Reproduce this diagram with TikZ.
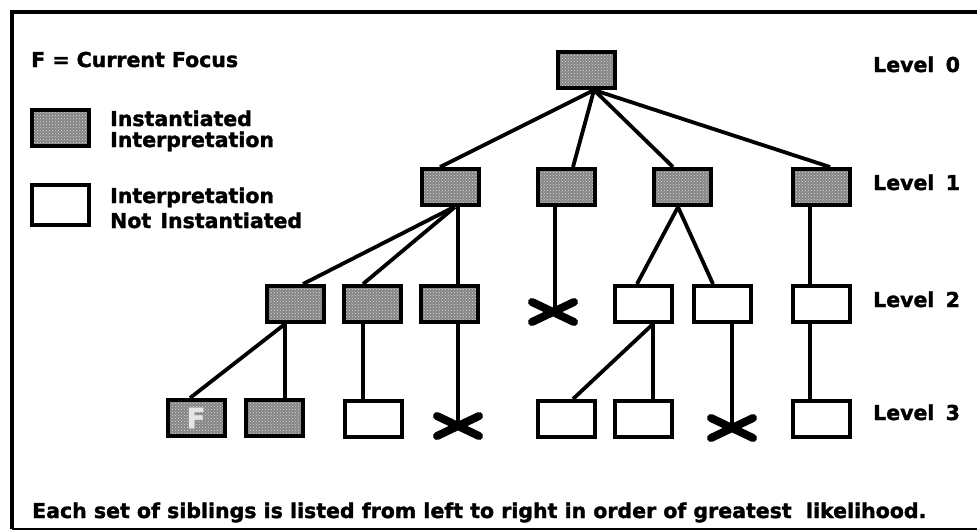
\documentclass[tikz,border=0pt]{standalone}
\usepackage{fontspec}
\setmainfont{DejaVu Sans}
\newfontfamily\heavyfont{DejaVu Sans Bold}[FakeBold=1.6]
\usetikzlibrary{patterns}
\begin{document}
\begin{tikzpicture}[x=1pt,y=-1pt,
  box/.style={draw, line width=4pt, minimum width=57pt, minimum height=36pt, inner sep=0pt},
  inst/.style={box, preaction={fill=black!48}, pattern=crosshatch dots, pattern color=white!85!black},
  open/.style={box, fill=white},
  link/.style={line width=3.8pt},
  lbl/.style={font=\heavyfont\fontsize{20.5}{24}\selectfont, anchor=base west, inner sep=0pt},
  xmark/.pic={\draw[line width=8pt, line cap=round] (-21,-10) -- (21,10) (-21,10) -- (21,-10);}
]
\useasboundingbox (0,0) rectangle (977,531);

% frame
\draw[line width=4.5pt] (977,12) -- (12,12) -- (12,529);
\draw[line width=1.5pt] (12,529) -- (977,529);

% legend
\node[lbl] (focus) at (31,67) {F = Current Focus};
\node[inst, minimum width=57pt] (leg1) at (60.5,127.5) {};
\node[lbl] (leg1a) at (110,126) {Instantiated};
\node[lbl] (leg1b) at (110,147) {Interpretation};
\node[open, minimum width=57pt, minimum height=40pt] (leg2) at (60.5,205) {};
\node[lbl] (leg2a) at (110,203) {Interpretation};
\node[lbl] (leg2b) at (110,228) {Not\hspace{0.45em}Instantiated};

% level labels
\node[lbl] (lv0) at (873,72) {Level\hspace{0.55em}0};
\node[lbl] (lv1) at (873,190) {Level\hspace{0.55em}1};
\node[lbl] (lv2) at (873,307) {Level\hspace{0.55em}2};
\node[lbl] (lv3) at (873,420) {Level\hspace{0.55em}3};

% caption
\node[lbl] (cap) at (32,518) {Each set of siblings is listed from left to right in order of greatest\hspace{0.35em} likelihood.};

% tree nodes
\node[inst] (n0) at (586,70) {};
\node[inst] (l1a) at (450,187) {};
\node[inst] (l1b) at (566,187) {};
\node[inst] (l1c) at (682,187) {};
\node[inst] (l1d) at (821,187) {};

\node[inst] (l2a) at (295,304) {};
\node[inst] (l2b) at (372,304) {};
\node[inst] (l2c) at (449,304) {};
\coordinate (x2) at (553,312);
\node[open] (l2d) at (643,304) {};
\node[open] (l2e) at (722,304) {};
\node[open] (l2f) at (821,304) {};

\node[inst, font=\heavyfont\fontsize{28}{28}\selectfont, text=white!80!gray] (l3a) at (196,418) {F};
\node[inst] (l3b) at (274,418) {};
\node[open] (l3c) at (373,419) {};
\coordinate (x3a) at (458,426);
\node[open] (l3e) at (566,419) {};
\node[open] (l3f) at (643,419) {};
\coordinate (x3b) at (732,428);
\node[open] (l3g) at (821,419) {};

% pruned branches
\pic at (x2) {xmark};
\pic at (x3a) {xmark};
\pic at (x3b) {xmark};

% level 0 -> level 1
\draw[link] ([xshift=8pt]n0.south) -- ([xshift=-10pt]l1a.north);
\draw[link] ([xshift=8pt]n0.south) -- ([xshift=7pt]l1b.north);
\draw[link] ([xshift=8pt]n0.south) -- ([xshift=-9pt]l1c.north);
\draw[link] ([xshift=8pt]n0.south) -- ([xshift=9pt]l1d.north);

% level 1 -> level 2
\draw[link] ([xshift=4pt]l1a.south) -- ([xshift=8pt]l2a.north);
\draw[link] ([xshift=5pt]l1a.south) -- ([xshift=-9pt]l2b.north);
\draw[link] ([xshift=8pt]l1a.south) -- ([xshift=9pt]l2c.north);
\draw[link] ([xshift=-11pt]l1b.south) -- ([xshift=2pt]x2);
\draw[link] ([xshift=-4pt]l1c.south) -- ([xshift=-6pt]l2d.north);
\draw[link] ([xshift=-4pt]l1c.south) -- ([xshift=-9pt]l2e.north);
\draw[link] ([xshift=-11pt]l1d.south) -- ([xshift=-11pt]l2f.north);

% level 2 -> level 3
\draw[link] ([xshift=-10pt]l2a.south) -- ([xshift=-6pt]l3a.north);
\draw[link] ([xshift=-10pt]l2a.south) -- ([xshift=11pt]l3b.north);
\draw[link] ([xshift=-9pt]l2b.south) -- ([xshift=-10pt]l3c.north);
\draw[link] ([xshift=9pt]l2c.south) -- (x3a);
\draw[link] ([xshift=10pt]l2d.south) -- ([xshift=7pt]l3e.north);
\draw[link] ([xshift=10pt]l2d.south) -- ([xshift=10pt]l3f.north);
\draw[link] ([xshift=10pt]l2e.south) -- (x3b);
\draw[link] ([xshift=-11pt]l2f.south) -- ([xshift=-11pt]l3g.north);
\end{tikzpicture}
\end{document}
